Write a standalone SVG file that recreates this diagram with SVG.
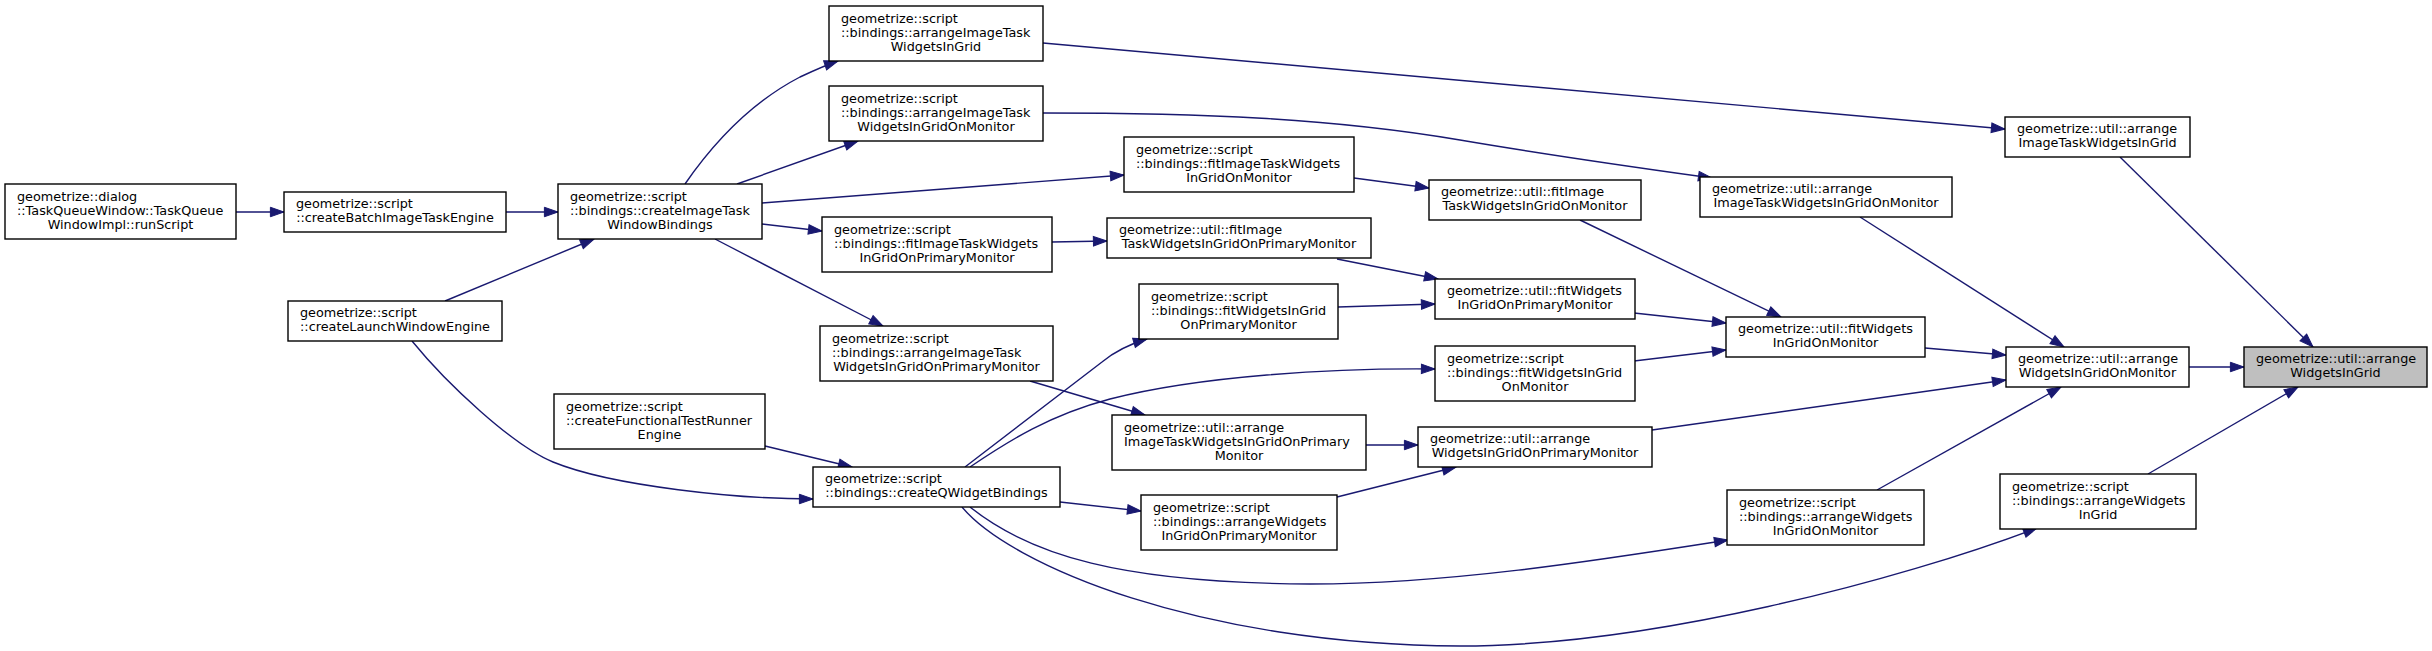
<svg xmlns="http://www.w3.org/2000/svg" width="2432" height="651" viewBox="0 0 2432 651">
<style>
.bg{fill:#fff}
.n rect{fill:#fff;stroke:#000;stroke-width:1.4}
.n.hl rect{fill:#bfbfbf}
.n text{font-family:"DejaVu Sans","Liberation Sans",sans-serif;font-size:12.8px;fill:#000}
.l{text-anchor:start}
.c{text-anchor:middle}
.e path{fill:none;stroke:#191970;stroke-width:1.4;marker-end:url(#ah)}
</style>
<defs>
<marker id="ah" markerUnits="userSpaceOnUse" markerWidth="15" markerHeight="11" refX="13.6" refY="4.75" orient="auto" overflow="visible">
<path d="M0,0 L13.6,4.75 L0,9.5 Z" fill="#191970" stroke="#191970" stroke-width="1"/>
</marker>
</defs>
<rect class="bg" x="0" y="0" width="2432" height="651"/>
<g id="edges" class="e">
<path d="M236,212 L284,212"/>
<path d="M506,212 L558,212"/>
<path d="M445,301 L594,239"/>
<path d="M412,341 C447,384 513,445.5 553,462 C613,486.5 740,499 813,499"/>
<path d="M765,446 L852,467"/>
<path d="M685,184 C712,145 750,103 800,77 C815,70 826,65 838,61"/>
<path d="M737,184 L858,141"/>
<path d="M762,203 L1124,175"/>
<path d="M762,224 L822,231"/>
<path d="M715,239 L883,326"/>
<path d="M1043,43 L2005,129"/>
<path d="M1043,113 C1200,113 1330,118 1460,140 C1560,157 1640,168 1712,178"/>
<path d="M1354,178 L1429,188"/>
<path d="M1052,242 L1107,241"/>
<path d="M1337,259 L1438,279"/>
<path d="M1338,307 L1435,304"/>
<path d="M965,467 L1102,362 Q1120,347 1147,339"/>
<path d="M970,467 C1010,440 1050,415 1110,399 C1200,376 1330,368 1435,369"/>
<path d="M1030,381 L1145,415"/>
<path d="M1366,445 L1418,445"/>
<path d="M1060,502 L1141,511"/>
<path d="M1337,497 L1456,467"/>
<path d="M970,507 C1030,555 1120,583 1310,584 C1450,584 1600,560 1728,540"/>
<path d="M962,507 C1010,565 1200,645 1460,646 C1650,646 1900,580 2037,528"/>
<path d="M1580,220 L1781,317"/>
<path d="M1634,313 L1726,323"/>
<path d="M1634,361 L1726,350"/>
<path d="M1925,348 L2006,355"/>
<path d="M1652,430 L2006,380"/>
<path d="M1877,490 L2061,387"/>
<path d="M1860,217 L2064,347"/>
<path d="M2189,367 L2244,367"/>
<path d="M2120,157 L2313,347"/>
<path d="M2148,474 L2298,387"/>
</g>
<g id="n1" class="n"><rect x="5" y="184" width="231" height="55"/><text class="l" x="17" y="200.7">geometrize::dialog</text><text class="l" x="17" y="214.7">::TaskQueueWindow::TaskQueue</text><text class="c" x="120.5" y="228.7">WindowImpl::runScript</text></g>
<g id="n2" class="n"><rect x="284" y="192" width="222" height="40"/><text class="l" x="296" y="208.2">geometrize::script</text><text class="c" x="395" y="222.2">::createBatchImageTaskEngine</text></g>
<g id="n3" class="n"><rect x="558" y="184" width="204" height="55"/><text class="l" x="570" y="200.7">geometrize::script</text><text class="l" x="570" y="214.7">::bindings::createImageTask</text><text class="c" x="660" y="228.7">WindowBindings</text></g>
<g id="n4" class="n"><rect x="288" y="301" width="214" height="40"/><text class="l" x="300" y="317.2">geometrize::script</text><text class="c" x="395" y="331.2">::createLaunchWindowEngine</text></g>
<g id="n5" class="n"><rect x="554" y="394" width="211" height="55"/><text class="l" x="566" y="410.7">geometrize::script</text><text class="l" x="566" y="424.7">::createFunctionalTestRunner</text><text class="c" x="659.5" y="438.7">Engine</text></g>
<g id="n6" class="n"><rect x="813" y="467" width="247" height="40"/><text class="l" x="825" y="483.2">geometrize::script</text><text class="c" x="936.5" y="497.2">::bindings::createQWidgetBindings</text></g>
<g id="n7" class="n"><rect x="829" y="6" width="214" height="55"/><text class="l" x="841" y="22.7">geometrize::script</text><text class="l" x="841" y="36.7">::bindings::arrangeImageTask</text><text class="c" x="936" y="50.7">WidgetsInGrid</text></g>
<g id="n8" class="n"><rect x="829" y="86" width="214" height="55"/><text class="l" x="841" y="102.7">geometrize::script</text><text class="l" x="841" y="116.7">::bindings::arrangeImageTask</text><text class="c" x="936" y="130.7">WidgetsInGridOnMonitor</text></g>
<g id="n9" class="n"><rect x="1124" y="137" width="230" height="55"/><text class="l" x="1136" y="153.7">geometrize::script</text><text class="l" x="1136" y="167.7">::bindings::fitImageTaskWidgets</text><text class="c" x="1239" y="181.7">InGridOnMonitor</text></g>
<g id="n10" class="n"><rect x="822" y="217" width="230" height="55"/><text class="l" x="834" y="233.7">geometrize::script</text><text class="l" x="834" y="247.7">::bindings::fitImageTaskWidgets</text><text class="c" x="937" y="261.7">InGridOnPrimaryMonitor</text></g>
<g id="n11" class="n"><rect x="820" y="326" width="233" height="55"/><text class="l" x="832" y="342.7">geometrize::script</text><text class="l" x="832" y="356.7">::bindings::arrangeImageTask</text><text class="c" x="936.5" y="370.7">WidgetsInGridOnPrimaryMonitor</text></g>
<g id="n12" class="n"><rect x="1139" y="284" width="199" height="55"/><text class="l" x="1151" y="300.7">geometrize::script</text><text class="l" x="1151" y="314.7">::bindings::fitWidgetsInGrid</text><text class="c" x="1238.5" y="328.7">OnPrimaryMonitor</text></g>
<g id="n13" class="n"><rect x="1112" y="415" width="254" height="55"/><text class="l" x="1124" y="431.7">geometrize::util::arrange</text><text class="l" x="1124" y="445.7">ImageTaskWidgetsInGridOnPrimary</text><text class="c" x="1239" y="459.7">Monitor</text></g>
<g id="n14" class="n"><rect x="1141" y="495" width="196" height="55"/><text class="l" x="1153" y="511.7">geometrize::script</text><text class="l" x="1153" y="525.7">::bindings::arrangeWidgets</text><text class="c" x="1239" y="539.7">InGridOnPrimaryMonitor</text></g>
<g id="n15" class="n"><rect x="1429" y="180" width="212" height="40"/><text class="l" x="1441" y="196.2">geometrize::util::fitImage</text><text class="c" x="1535" y="210.2">TaskWidgetsInGridOnMonitor</text></g>
<g id="n16" class="n"><rect x="1107" y="218" width="264" height="40"/><text class="l" x="1119" y="234.2">geometrize::util::fitImage</text><text class="c" x="1239" y="248.2">TaskWidgetsInGridOnPrimaryMonitor</text></g>
<g id="n17" class="n"><rect x="1435" y="279" width="200" height="40"/><text class="l" x="1447" y="295.2">geometrize::util::fitWidgets</text><text class="c" x="1535" y="309.2">InGridOnPrimaryMonitor</text></g>
<g id="n18" class="n"><rect x="1435" y="346" width="200" height="55"/><text class="l" x="1447" y="362.7">geometrize::script</text><text class="l" x="1447" y="376.7">::bindings::fitWidgetsInGrid</text><text class="c" x="1535" y="390.7">OnMonitor</text></g>
<g id="n19" class="n"><rect x="1418" y="427" width="234" height="40"/><text class="l" x="1430" y="443.2">geometrize::util::arrange</text><text class="c" x="1535" y="457.2">WidgetsInGridOnPrimaryMonitor</text></g>
<g id="n20" class="n"><rect x="2005" y="117" width="185" height="40"/><text class="l" x="2017" y="133.2">geometrize::util::arrange</text><text class="c" x="2097.5" y="147.2">ImageTaskWidgetsInGrid</text></g>
<g id="n21" class="n"><rect x="1700" y="177" width="252" height="40"/><text class="l" x="1712" y="193.2">geometrize::util::arrange</text><text class="c" x="1826" y="207.2">ImageTaskWidgetsInGridOnMonitor</text></g>
<g id="n22" class="n"><rect x="1726" y="317" width="199" height="40"/><text class="l" x="1738" y="333.2">geometrize::util::fitWidgets</text><text class="c" x="1825.5" y="347.2">InGridOnMonitor</text></g>
<g id="n23" class="n"><rect x="2006" y="347" width="183" height="40"/><text class="l" x="2018" y="363.2">geometrize::util::arrange</text><text class="c" x="2097.5" y="377.2">WidgetsInGridOnMonitor</text></g>
<g id="n24" class="n hl"><rect x="2244" y="347" width="183" height="40"/><text class="l" x="2256" y="363.2">geometrize::util::arrange</text><text class="c" x="2335.5" y="377.2">WidgetsInGrid</text></g>
<g id="n25" class="n"><rect x="1727" y="490" width="197" height="55"/><text class="l" x="1739" y="506.7">geometrize::script</text><text class="l" x="1739" y="520.7">::bindings::arrangeWidgets</text><text class="c" x="1825.5" y="534.7">InGridOnMonitor</text></g>
<g id="n26" class="n"><rect x="2000" y="474" width="196" height="55"/><text class="l" x="2012" y="490.7">geometrize::script</text><text class="l" x="2012" y="504.7">::bindings::arrangeWidgets</text><text class="c" x="2098" y="518.7">InGrid</text></g>
</svg>
